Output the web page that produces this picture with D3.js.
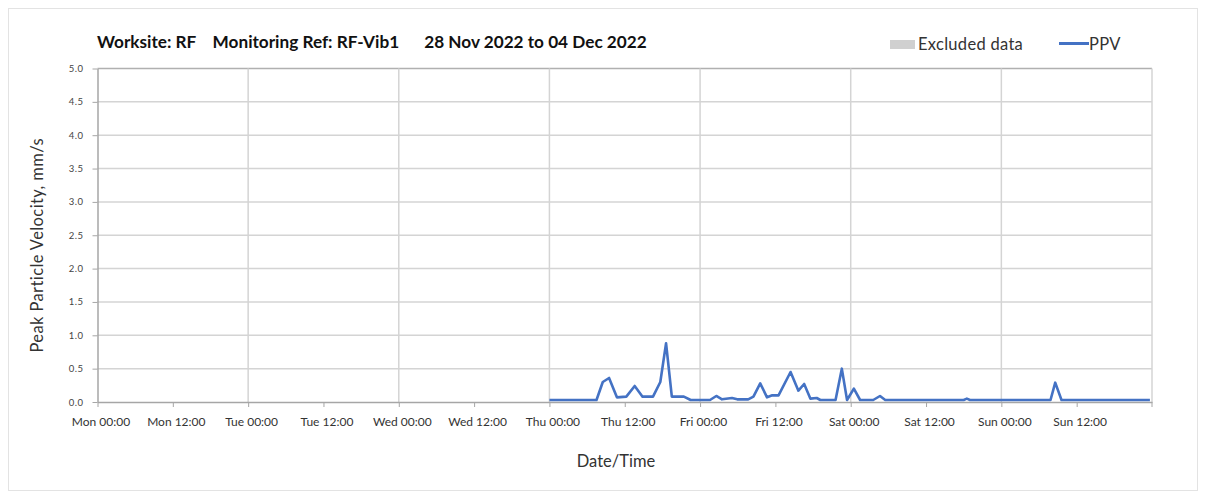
<!DOCTYPE html>
<html>
<head>
<meta charset="utf-8">
<script src="https://cdn.jsdelivr.net/npm/d3@7"></script>
<style>
  body { margin: 0; background: #fff; }
  .chart { font-family: Lato, "Open Sans", sans-serif; }
</style>
</head>
<body>
<div class="chart"></div>
<script>
// chart size
var width = 1205;
var height = 498;
var margin = {top: 68.5, right: 53, bottom: 96, left: 97.5};

// data (PPV, mm/s)
var sampleTimes = [
  "2022-12-01T00:00", "2022-12-01T07:30", "2022-12-01T08:30", "2022-12-01T09:30",
  "2022-12-01T10:45", "2022-12-01T12:15", "2022-12-01T13:35", "2022-12-01T14:50",
  "2022-12-01T16:30", "2022-12-01T17:40", "2022-12-01T18:35", "2022-12-01T19:30",
  "2022-12-01T21:25", "2022-12-01T22:30", "2022-12-02T01:35", "2022-12-02T02:35",
  "2022-12-02T03:30", "2022-12-02T05:05", "2022-12-02T05:55", "2022-12-02T07:40",
  "2022-12-02T08:30", "2022-12-02T09:35", "2022-12-02T10:40", "2022-12-02T11:30",
  "2022-12-02T12:30", "2022-12-02T14:25", "2022-12-02T15:40", "2022-12-02T16:35",
  "2022-12-02T17:35", "2022-12-02T18:35", "2022-12-02T19:10", "2022-12-02T21:35",
  "2022-12-02T22:35", "2022-12-02T23:25", "2022-12-03T00:30", "2022-12-03T01:30",
  "2022-12-03T03:35", "2022-12-03T04:40", "2022-12-03T05:30", "2022-12-03T18:00",
  "2022-12-03T18:30", "2022-12-03T19:00", "2022-12-04T07:50", "2022-12-04T08:35",
  "2022-12-04T09:35", "2022-12-04T23:40"
];
var ppvValues = [
  0.03, 0.03, 0.30, 0.36,
  0.07, 0.08, 0.24, 0.08,
  0.08, 0.30, 0.88, 0.08,
  0.08, 0.03, 0.03, 0.09,
  0.04, 0.06, 0.04, 0.04,
  0.08, 0.28, 0.07, 0.10,
  0.10, 0.45, 0.17, 0.27,
  0.05, 0.06, 0.03, 0.03,
  0.50, 0.03, 0.20, 0.03,
  0.03, 0.09, 0.03, 0.03,
  0.05, 0.03, 0.03, 0.29,
  0.03, 0.03
];

var xTickLabels = ["Mon 00:00", "Mon 12:00", "Tue 00:00", "Tue 12:00", "Wed 00:00", "Wed 12:00",
                   "Thu 00:00", "Thu 12:00", "Fri 00:00", "Fri 12:00", "Sat 00:00", "Sat 12:00",
                   "Sun 00:00", "Sun 12:00"];
var yTickValues = [0, 0.5, 1, 1.5, 2, 2.5, 3, 3.5, 4, 4.5, 5];

var titleText = "Worksite: RF\u00a0\u00a0\u00a0\u00a0Monitoring Ref: RF-Vib1\u00a0\u00a0\u00a0\u00a0\u00a0\u00a028 Nov 2022 to 04 Dec 2022";

var parseTime = d3.timeParse("%Y-%m-%dT%H:%M");
var dataset = sampleTimes.map(function(t, i) {
  return {date: parseTime(t), value: ppvValues[i]};
});

var xMin = new Date(2022, 10, 28);
var xMax = new Date(2022, 11, 5);

// scales
var xScale = d3.scaleTime()
               .domain([xMin, xMax])
               .range([margin.left, width - margin.right]);
var yScale = d3.scaleLinear()
               .domain([0, 5])
               .range([height - margin.bottom, margin.top]);

var svg = d3.select(".chart")
            .append("svg")
            .attr("width", width)
            .attr("height", height);

// outer frame
svg.append("rect")
   .attr("x", 8.5).attr("y", 8.5)
   .attr("width", 1189).attr("height", 482)
   .attr("fill", "none")
   .attr("stroke", "#e3e3e3");

var x0 = margin.left, x1 = width - margin.right;
var y0 = height - margin.bottom, y1 = margin.top;

// gridlines
svg.append("g")
   .selectAll("line")
   .data(yTickValues.slice(1))
   .enter()
   .append("line")
   .attr("x1", x0).attr("x2", x1)
   .attr("y1", d => yScale(d)).attr("y2", d => yScale(d))
   .attr("stroke", d => d === 5 ? "#b0b0b0" : "#d4d4d4")
   .attr("stroke-width", 1.5);

var dayTicks = d3.timeDay.every(1).range(xMin, d3.timeHour.offset(xMax, 1)).slice(1);
svg.append("g")
   .selectAll("line")
   .data(dayTicks)
   .enter()
   .append("line")
   .attr("x1", d => xScale(d)).attr("x2", d => xScale(d))
   .attr("y1", y1).attr("y2", y0)
   .attr("stroke", "#d4d4d4")
   .attr("stroke-width", 1.5);

// axes
var xAxis = d3.axisBottom(xScale)
              .tickValues(d3.timeHour.every(12).range(xMin, xMax))
              .tickFormat((d, i) => xTickLabels[i])
              .tickSize(5)
              .tickSizeOuter(0);
var yAxis = d3.axisLeft(yScale)
              .tickValues(yTickValues)
              .tickFormat(d3.format(".1f"))
              .tickSize(5)
              .tickSizeOuter(0);

var gx = svg.append("g")
   .attr("id", "x-axis")
   .attr("transform", "translate(0," + y0 + ")")
   .call(xAxis);
gx.select(".domain").attr("stroke", "#a6a6a6").attr("stroke-width", 1.5);
gx.selectAll(".tick line").attr("stroke", "#a6a6a6");
gx.selectAll(".tick text")
  .attr("y", 15)
  .attr("dx", 3)
  .attr("fill", "#333")
  .style("font-size", "12px")
  .style("font-family", "Lato, sans-serif");
// end tick on the right edge
gx.append("line")
  .attr("x1", x1).attr("x2", x1).attr("y1", 0).attr("y2", 5)
  .attr("stroke", "#a6a6a6");

var gy = svg.append("g")
   .attr("id", "y-axis")
   .attr("transform", "translate(" + x0 + ",0)")
   .call(yAxis);
gy.select(".domain").attr("stroke", "#a6a6a6").attr("stroke-width", 1.5);
gy.selectAll(".tick line").attr("stroke", "#a6a6a6");
gy.selectAll(".tick text")
  .attr("x", -14)
  .attr("fill", "#444")
  .style("font-size", "9.5px")
  .style("letter-spacing", "0.5px")
  .style("font-family", "Lato, sans-serif");

// PPV line
var line = d3.line()
             .x(d => xScale(d.date))
             .y(d => yScale(d.value));
svg.append("path")
   .datum(dataset)
   .attr("d", line)
   .attr("fill", "none")
   .attr("stroke", "#4472C4")
   .attr("stroke-width", 2.6)
   .attr("stroke-linejoin", "round");

// title
svg.append("text")
   .attr("x", 97)
   .attr("y", 48)
   .attr("fill", "#111")
   .style("font-size", "17.2px")
   .style("font-weight", "bold")
   .text(titleText);

// legend
svg.append("rect")
   .attr("x", 890).attr("y", 40)
   .attr("width", 25).attr("height", 9)
   .attr("fill", "#d0d0d0");
svg.append("text")
   .attr("x", 918).attr("y", 49.5)
   .attr("fill", "#333")
   .style("font-size", "16.5px")
   .style("letter-spacing", "0.3px")
   .text("Excluded data");
svg.append("line")
   .attr("x1", 1059).attr("x2", 1089)
   .attr("y1", 43.5).attr("y2", 43.5)
   .attr("stroke", "#4472C4")
   .attr("stroke-width", 3);
svg.append("text")
   .attr("x", 1089).attr("y", 49.5)
   .attr("fill", "#333")
   .style("font-size", "16.5px")
   .style("letter-spacing", "0.3px")
   .text("PPV");

// axis titles
svg.append("text")
   .attr("transform", "translate(43," + ((y0 + y1) / 2 + 10) + ") rotate(-90)")
   .attr("text-anchor", "middle")
   .attr("fill", "#333")
   .style("font-size", "16.5px")
   .style("letter-spacing", "0.4px")
   .text("Peak Particle Velocity, mm/s");

svg.append("text")
   .attr("x", 616)
   .attr("y", 467)
   .attr("text-anchor", "middle")
   .attr("fill", "#333")
   .style("font-size", "16.5px")
   .text("Date/Time");
</script>
</body>
</html>
